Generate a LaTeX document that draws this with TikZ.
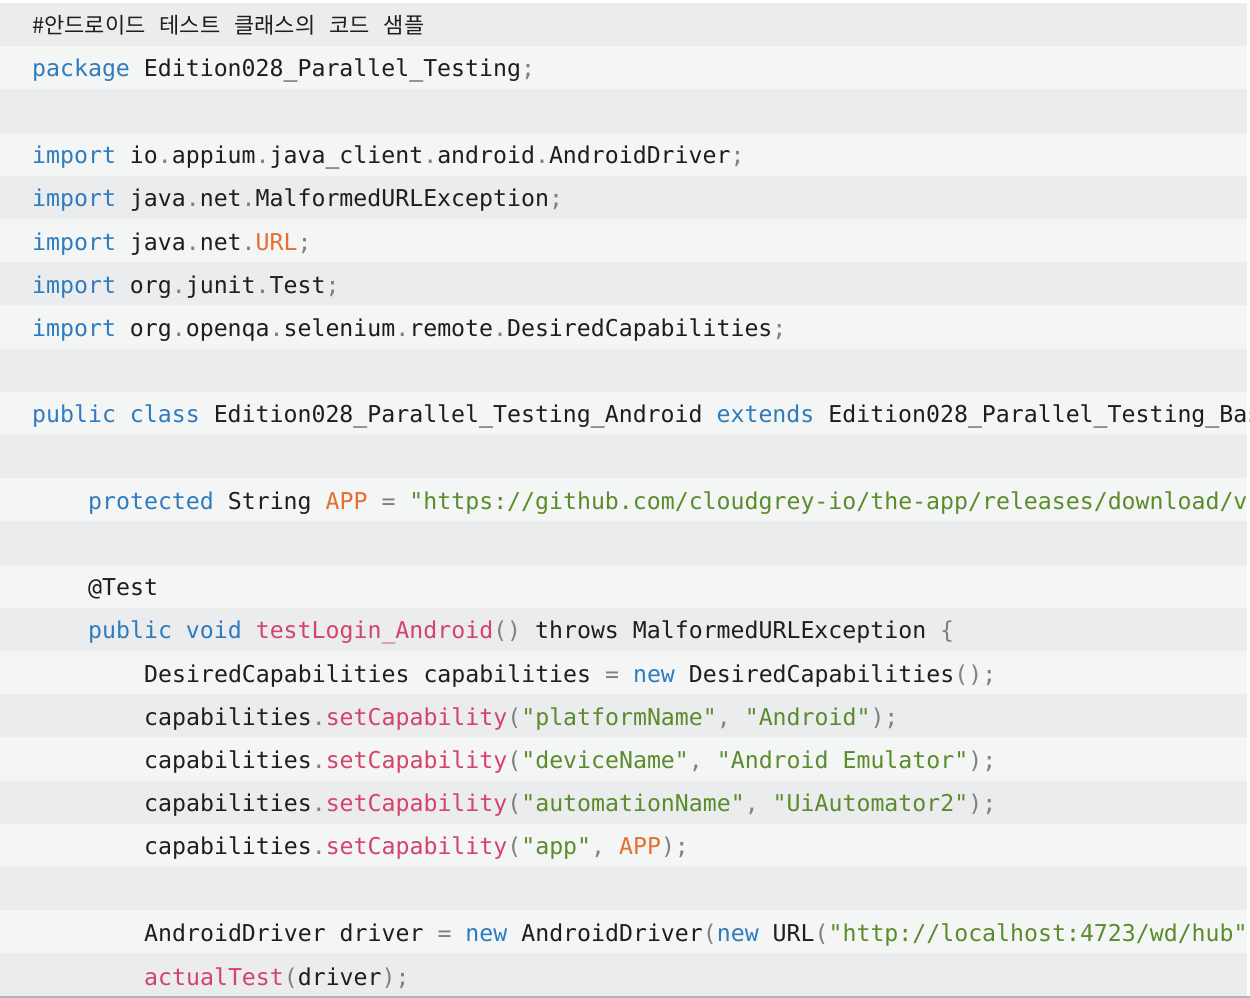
\documentclass[tikz,border=0pt]{standalone}
\usepackage{fontspec}
\setmonofont{DejaVu Sans Mono}
\newfontfamily\cjk{Noto Sans CJK KR}
\definecolor{rowA}{HTML}{EBECEE}
\definecolor{rowB}{HTML}{F4F5F5}
\definecolor{kwc}{HTML}{2F7BBF}
\definecolor{fnc}{HTML}{D6436A}
\definecolor{cnc}{HTML}{E2702E}
\definecolor{stc}{HTML}{5B8C2C}
\definecolor{puc}{HTML}{808080}
\definecolor{txc}{HTML}{1E1E1E}
\newcommand\kw[1]{\textcolor{kwc}{#1}}
\newcommand\fn[1]{\textcolor{fnc}{#1}}
\newcommand\cn[1]{\textcolor{cnc}{#1}}
\newcommand\st[1]{\textcolor{stc}{#1}}
\newcommand\pu[1]{\textcolor{puc}{#1}}
\newcommand\ksp{\hspace{14pt}}
\tikzset{code/.style={anchor=west,inner sep=0pt,font=\ttfamily\fontsize{23.2}{24}\selectfont,text=txc}}
\begin{document}
\begin{tikzpicture}[x=1pt,y=-1pt]
\useasboundingbox (0,0) rectangle (1250,998);
\clip (0,0) rectangle (1250,998);
\fill[white] (0,0) rectangle (1250,998);
\foreach \i in {0,...,22}{
  \pgfmathsetmacro\yt{3+43.2*\i}
  \pgfmathtruncatemacro\odd{mod(\i,2)}
  \ifnum\odd=0 \fill[rowA] (0,\yt) rectangle (1247,\yt+43.2);
  \else \fill[rowB] (0,\yt) rectangle (1247,\yt+43.2); \fi
}
\draw[puc!60,line width=1.5pt] (0,997) -- (1250,997);
\newcommand\ly[1]{27.6+43.2*#1}
\node[anchor=west,inner sep=0pt,font=\cjk\fontsize{22}{24}\selectfont,text=txc] (l0) at (32,{\ly{0}-2}) {\#안드로이드\ksp 테스트\ksp 클래스의\ksp 코드\ksp 샘플};
\node[code] (l1) at (32,{\ly{1}}) {\kw{package} Edition028\_Parallel\_Testing\pu{;}};
\node[code] (l3) at (32,{\ly{3}}) {\kw{import} io\pu{.}appium\pu{.}java\_client\pu{.}android\pu{.}AndroidDriver\pu{;}};
\node[code] (l4) at (32,{\ly{4}}) {\kw{import} java\pu{.}net\pu{.}MalformedURLException\pu{;}};
\node[code] (l5) at (32,{\ly{5}}) {\kw{import} java\pu{.}net\pu{.}\cn{URL}\pu{;}};
\node[code] (l6) at (32,{\ly{6}}) {\kw{import} org\pu{.}junit\pu{.}Test\pu{;}};
\node[code] (l7) at (32,{\ly{7}}) {\kw{import} org\pu{.}openqa\pu{.}selenium\pu{.}remote\pu{.}DesiredCapabilities\pu{;}};
\node[code] (l9) at (32,{\ly{9}}) {\kw{public} \kw{class} Edition028\_Parallel\_Testing\_Android \kw{extends} Edition028\_Parallel\_Testing\_Base \pu{\{}};
\node[code] (l11) at (88,{\ly{11}}) {\kw{protected} String \cn{APP} \pu{=} \st{"https://github.com/cloudgrey-io/the-app/releases/download/v1.9.0/TheApp-v1.9.0.apk"}\pu{;}};
\node[code] (l13) at (88,{\ly{13}}) {@Test};
\node[code] (l14) at (88,{\ly{14}}) {\kw{public} \kw{void} \fn{testLogin\_Android}\pu{()} throws MalformedURLException \pu{\{}};
\node[code] (l15) at (144,{\ly{15}}) {DesiredCapabilities capabilities \pu{=} \kw{new} DesiredCapabilities\pu{();}};
\node[code] (l16) at (144,{\ly{16}}) {capabilities\pu{.}\fn{setCapability}\pu{(}\st{"platformName"}\pu{,} \st{"Android"}\pu{);}};
\node[code] (l17) at (144,{\ly{17}}) {capabilities\pu{.}\fn{setCapability}\pu{(}\st{"deviceName"}\pu{,} \st{"Android Emulator"}\pu{);}};
\node[code] (l18) at (144,{\ly{18}}) {capabilities\pu{.}\fn{setCapability}\pu{(}\st{"automationName"}\pu{,} \st{"UiAutomator2"}\pu{);}};
\node[code] (l19) at (144,{\ly{19}}) {capabilities\pu{.}\fn{setCapability}\pu{(}\st{"app"}\pu{,} \cn{APP}\pu{);}};
\node[code] (l21) at (144,{\ly{21}}) {AndroidDriver driver \pu{=} \kw{new} AndroidDriver\pu{(}\kw{new} URL\pu{(}\st{"http://localhost:4723/wd/hub"}\pu{),} capabilities\pu{);}};
\node[code] (l22) at (144,{\ly{22}}) {\fn{actualTest}\pu{(}driver\pu{);}};
\end{tikzpicture}
\end{document}
